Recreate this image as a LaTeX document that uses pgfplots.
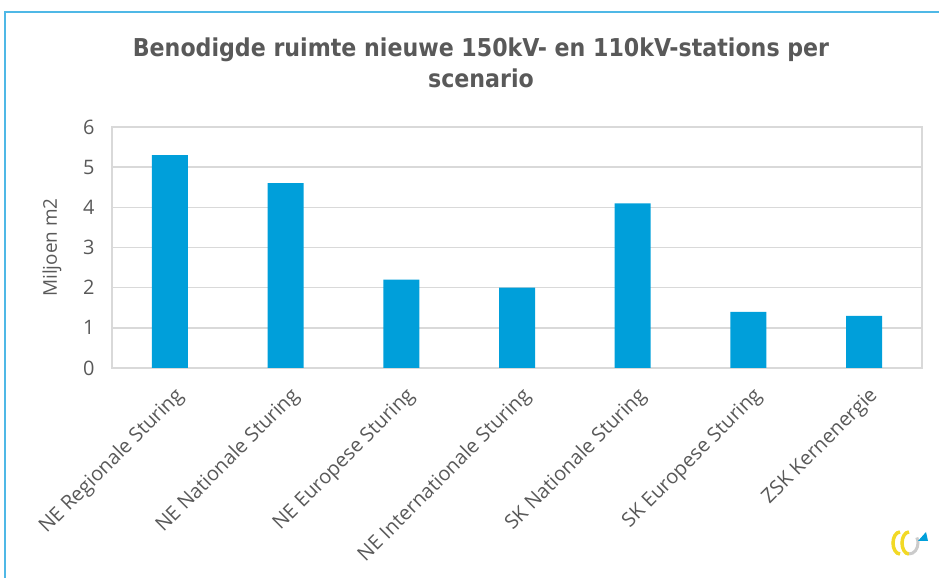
\documentclass[border=0pt]{standalone}
\usepackage{fontspec}
\setmainfont{Open Sans}
\newfontfamily\titlefont{DejaVu Sans Condensed}
\usepackage{pgfplots}
\pgfplotsset{compat=1.18}
\definecolor{barblue}{HTML}{009FDA}
\definecolor{gridgray}{HTML}{D9D9D9}
\definecolor{txt}{HTML}{595959}
\definecolor{framec}{HTML}{4FB8E6}
\definecolor{logoy}{HTML}{F2D926}
\begin{document}
\begin{tikzpicture}[x=1bp,y=1bp]
\useasboundingbox (0,0) rectangle (939,578);
\draw[framec, line width=2bp] (5,0) -- (5,566) -- (939,566);
\node[txt, font=\titlefont\fontsize{24.7}{31}\selectfont\bfseries, align=center] at (481,515)
  {Benodigde ruimte nieuwe 150kV- en 110kV-stations per\\scenario};
\begin{axis}[
  at={(112bp,210bp)}, anchor=south west,
  scale only axis, width=810bp, height=241bp,
  ybar, bar width=36bp,
  xmin=-0.5, xmax=6.5, ymin=0, ymax=6,
  ytick={0,1,2,3,4,5,6},
  xtick=data,
  xticklabels={NE Regionale Sturing, NE Nationale Sturing, NE Europese Sturing, NE Internationale Sturing, SK Nationale Sturing, SK Europese Sturing, ZSK Kernenergie},
  ymajorgrids, grid style={gridgray, line width=1.5bp},
  axis line style={gridgray, line width=1.5bp},
  major tick length=0pt,
  /pgf/number format/assume math mode=true,
  tick label style={txt, font=\fontsize{20}{24}\selectfont},
  yticklabel style={xshift=-14bp},
  xticklabel style={rotate=45, anchor=north east, inner sep=2bp, yshift=-13bp, xshift=-8bp},
  ylabel={Miljoen m2},
  every axis y label/.style={at={(axis description cs:-0.074,0.5)}, rotate=90, anchor=center, txt, font=\fontsize{19}{22}\selectfont},
]
\addplot[fill=barblue, draw=none] coordinates {(0,5.3) (1,4.6) (2,2.2) (3,2.0) (4,4.1) (5,1.4) (6,1.3)};
\end{axis}
% logo decoration
\begin{scope}[shift={(908,35)}]
  \draw[logoy, line width=3.5bp] (-8,-11) arc[start angle=-90, end angle=-270, x radius=7, y radius=11];
  \draw[logoy, line width=3.5bp] (1,-11) arc[start angle=-90, end angle=-270, x radius=7, y radius=11];
  \draw[gridgray!85!gray, line width=3bp] (1,-11) arc[start angle=-90, end angle=30, x radius=9, y radius=11];
  \fill[barblue] (10,2) -- (20,2) -- (18,11) -- cycle;
\end{scope}
\end{tikzpicture}
\end{document}
